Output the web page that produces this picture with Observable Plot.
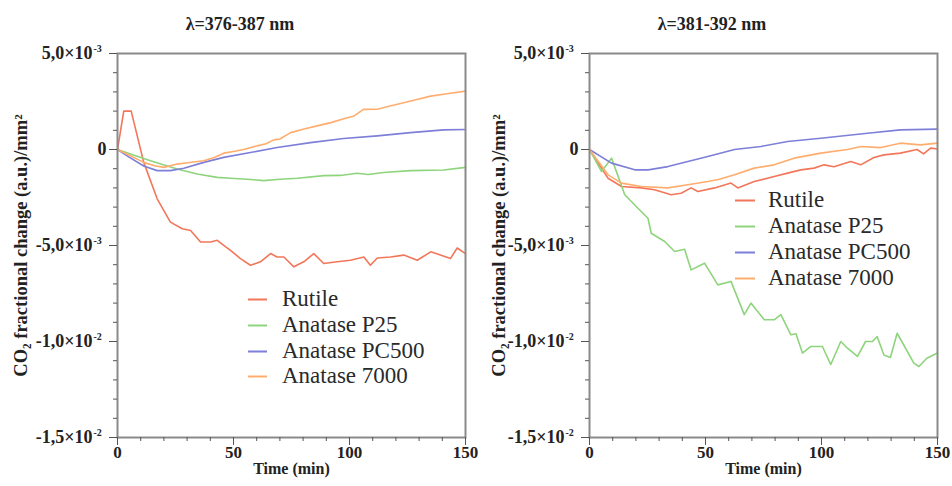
<!DOCTYPE html>
<html><head><meta charset="utf-8">
<script src="https://cdn.jsdelivr.net/npm/d3@7"></script>
<script src="https://cdn.jsdelivr.net/npm/@observablehq/plot@0.6"></script>
<style>
body{margin:0;background:#fff;}
#wrap{position:relative;width:952px;height:486px;overflow:hidden;color:#222;}
.panel{position:absolute;top:0;}
.title{position:absolute;top:14px;font-weight:bold;font-size:18px;line-height:20px;transform:translateX(-50%);white-space:nowrap;}
.legrow{position:absolute;white-space:nowrap;font-size:23px;line-height:23px;transform:translateY(-50%);color:#2a2a2a;}
.legline{position:absolute;height:0;border-top:2px solid;top:50%;}
</style></head><body><div id="wrap"></div>
<script>
// ---- data (values in units of 1e-3 a.u./mm²) ----
const seriesNames = ["Rutile", "Anatase P25", "Anatase PC500", "Anatase 7000"];
const seriesColors = ["#f2775a", "#8ed47c", "#7d7fd8", "#ffad6e"];
const panelTitles = ["λ=376-387 nm", "λ=381-392 nm"];

const yTickValues = [5, 0, -5, -10, -15];
const yTickMantissa = ["5,0×10", "0", "-5,0×10", "-1,0×10", "-1,5×10"];
const yTickExponent = ["-3", "", "-3", "-2", "-2"];
const xMajorTicks = [0, 50, 100, 150];
const xMinorTicks = [0,10,20,30,40,50,60,70,80,90,100,110,120,130,140,150];
const yMinorTicks = [5,4,3,2,1,0,-1,-2,-3,-4,-5,-6,-7,-8,-9,-10,-11,-12,-13,-14,-15];
const xLabel = "Time (min)";
const yLabel = "CO₂ fractional change (a.u.)/mm²";

// Left panel (λ=376-387 nm): [time, value]
const rutileLeft = [[0,0],[2.7,2.0],[5.9,2.0],[11.3,-0.67],[17.1,-2.57],[22.8,-3.78],[27.9,-4.13],[31.5,-4.22],[35.8,-4.82],[40.1,-4.82],[43,-4.73],[45.8,-4.99],[48.7,-5.25],[53,-5.68],[57.3,-6.03],[61.6,-5.85],[66,-5.42],[68.8,-5.6],[71.7,-5.6],[76,-6.11],[80.3,-5.85],[84.6,-5.42],[88.9,-5.94],[94.7,-5.85],[100.4,-5.77],[106.2,-5.6],[109,-6.03],[112,-5.65],[117.7,-5.6],[123.4,-5.5],[129.2,-5.77],[135,-5.33],[139.2,-5.5],[143.5,-5.68],[146.4,-5.13],[150,-5.42]];
const p25Left = [[0,0],[5.6,-0.24],[14.2,-0.59],[25.7,-1.02],[34.3,-1.28],[43,-1.45],[48.7,-1.5],[56,-1.55],[63,-1.62],[70,-1.55],[77.5,-1.5],[89,-1.36],[96,-1.35],[103.3,-1.24],[108,-1.3],[114.7,-1.2],[126.3,-1.1],[140.6,-1.07],[150,-0.93]];
const pc500Left = [[0,0],[5,-0.4],[11.3,-0.86],[17.1,-1.1],[22.8,-1.1],[28.6,-0.98],[37.2,-0.67],[45.8,-0.41],[57.3,-0.16],[68.8,0.1],[83.2,0.36],[97.5,0.57],[112,0.71],[126.3,0.88],[140.6,1.02],[150,1.04]];
const a7000Left = [[0,0],[5,-0.3],[11.3,-0.67],[16,-0.85],[20,-0.93],[25.7,-0.76],[31,-0.68],[37.2,-0.59],[42,-0.4],[45.8,-0.19],[50,-0.1],[54.4,0],[60.2,0.19],[64,0.3],[67.4,0.5],[70,0.55],[74.6,0.88],[80,1.05],[86,1.23],[92,1.4],[97.5,1.6],[102,1.75],[106,2.09],[112,2.1],[117,2.25],[123.4,2.43],[129,2.6],[135,2.78],[142,2.9],[150,3.04]];

// Right panel (λ=381-392 nm)
const rutileRight = [[0,0],[8,-1.5],[13.8,-1.93],[22.3,-2.0],[28,-2.1],[35.2,-2.36],[39.5,-2.28],[43.8,-2.0],[46.7,-2.19],[53.9,-2.0],[61,-1.75],[63.9,-2.0],[71,-1.67],[79.6,-1.41],[85.4,-1.23],[91.1,-1.06],[96.8,-0.97],[101.1,-0.8],[105.4,-0.9],[112.6,-0.63],[116.9,-0.8],[122.6,-0.42],[126.9,-0.28],[134,-0.19],[141.2,0],[144,-0.23],[147,0.07],[150,0.03]];
const p25Right = [[0,0],[5.2,-1.15],[9.5,-0.45],[15.2,-2.36],[20.9,-3.06],[25.2,-3.58],[26.6,-4.36],[32.4,-4.79],[36.7,-5.31],[41,-5.2],[43.8,-6.27],[49.6,-5.92],[55.3,-7.05],[61,-6.87],[66.7,-8.6],[69.6,-8.0],[75.3,-8.87],[79.6,-8.87],[82.5,-8.6],[86.8,-9.65],[89,-9.6],[91.8,-10.6],[95.4,-10.26],[100.4,-10.26],[104,-11.2],[108.3,-10.0],[111.2,-10.35],[115.5,-10.78],[119,-10.0],[122,-10.0],[124,-9.74],[126.9,-10.7],[129.7,-10.83],[132.6,-9.57],[135.4,-10.17],[139.8,-11.13],[142,-11.3],[145.4,-10.87],[150,-10.6]];
const pc500Right = [[0,0],[9.5,-0.71],[19.5,-1.06],[25.3,-1.06],[33.8,-0.89],[42.4,-0.63],[51,-0.36],[62.5,0],[73.9,0.16],[85.4,0.42],[99.7,0.59],[119.8,0.85],[134,1.02],[150,1.06]];
const a7000Right = [[0,0],[8,-1.32],[13.8,-1.75],[22.3,-1.93],[33.8,-2.0],[42.4,-1.84],[51,-1.67],[56,-1.55],[62.5,-1.32],[71,-0.97],[79.6,-0.8],[88.2,-0.45],[99.7,-0.19],[111.2,0],[117,0.16],[125.5,0.1],[134,0.33],[142.6,0.24],[150,0.33]];

// ---- drawing ----
const FONT = "'Liberation Serif', serif";
function makePanel(seriesList, ml, mr, labelDx) {
  const data = seriesList.flatMap((pts, i) => pts.map(([t, v]) => ({t, v, name: seriesNames[i]})));
  const expIdx = yTickValues.map((d, i) => i).filter(i => yTickExponent[i] !== "");
  const plainIdx = yTickValues.map((d, i) => i).filter(i => yTickExponent[i] === "");
  const svg = Plot.plot({
    width: 476, height: 486,
    marginLeft: ml, marginRight: mr, marginTop: 53, marginBottom: 49,
    style: {fontFamily: FONT, background: "transparent", overflow: "visible", color: "#222"},
    x: {domain: [0, 150], axis: null},
    y: {domain: [-15, 5], axis: null},
    color: {domain: seriesNames, range: seriesColors},
    marks: [
      Plot.line(data, {x: "t", y: "v", z: "name", stroke: "name", strokeWidth: 1.6}),
      Plot.frame({stroke: "#8a8a8a", strokeWidth: 2}),
      Plot.axisX({ticks: xMinorTicks, tickSize: 4, tickFormat: () => "", label: null, stroke: "#555"}),
      Plot.axisX({ticks: xMajorTicks, tickSize: 8, tickPadding: 0, fontSize: 17, fontWeight: "bold", label: null, stroke: "#555", fill: "#222"}),
      Plot.axisY({ticks: yMinorTicks, tickSize: 4, tickFormat: () => "", label: null, stroke: "#555"}),
      Plot.axisY({ticks: yTickValues, tickSize: 8, tickFormat: () => "", label: null, stroke: "#555"}),
      Plot.text(expIdx, {y: i => yTickValues[i], text: i => yTickMantissa[i], frameAnchor: "left", textAnchor: "end", dx: -25, fontSize: 18, fontWeight: "bold", fill: "#222"}),
      Plot.text(expIdx, {y: i => yTickValues[i], text: i => yTickExponent[i], frameAnchor: "left", textAnchor: "start", dx: -24, dy: -5, fontSize: 10, fontWeight: "bold", fill: "#222"}),
      Plot.text(plainIdx, {y: i => yTickValues[i], text: i => yTickMantissa[i], frameAnchor: "left", textAnchor: "end", dx: -11, fontSize: 18, fontWeight: "bold", fill: "#222"}),
      Plot.text([yLabel], {frameAnchor: "left", textAnchor: "middle", rotate: -90, dx: labelDx, fontSize: 18.5, fontWeight: "bold", fill: "#222"}),
      Plot.text([xLabel], {frameAnchor: "bottom", dy: 36, fontSize: 16, fontWeight: "bold", fill: "#222"})
    ]
  });
  svg.style.fontFamily = FONT;
  svg.querySelectorAll("text").forEach(t => t.style.fontFamily = FONT);
  return svg;
}

const wrap = document.getElementById("wrap");
wrap.style.fontFamily = FONT;
const panels = [
  {series: [rutileLeft, p25Left, pc500Left, a7000Left], ml: 117, mr: 11, labelDx: -96, left: 0, titleX: 240,
   leg: {lineX: 248, lineW: 19, textX: 282, rows: [298, 324, 350, 375]}},
  {series: [rutileRight, p25Right, pc500Right, a7000Right], ml: 113, mr: 15, labelDx: -90, left: 476, titleX: 712,
   leg: {lineX: 735, lineW: 20, textX: 768, rows: [199, 225, 251, 277]}}
];
panels.forEach((p, k) => {
  const div = document.createElement("div");
  div.className = "panel";
  div.style.left = p.left + "px";
  div.appendChild(makePanel(p.series, p.ml, p.mr, p.labelDx));
  wrap.appendChild(div);
  const t = document.createElement("div");
  t.className = "title";
  t.style.fontFamily = FONT;
  t.style.left = p.titleX + "px";
  t.textContent = panelTitles[k];
  wrap.appendChild(t);
  seriesNames.forEach((name, i) => {
    const row = document.createElement("div");
    row.className = "legrow";
    row.style.fontFamily = FONT;
    row.style.left = p.leg.lineX + "px";
    row.style.top = p.leg.rows[i] + "px";
    row.style.paddingLeft = (p.leg.textX - p.leg.lineX) + "px";
    const ln = document.createElement("span");
    ln.className = "legline";
    ln.style.left = "0px";
    ln.style.width = p.leg.lineW + "px";
    ln.style.borderColor = seriesColors[i];
    row.appendChild(ln);
    row.appendChild(document.createTextNode(name));
    wrap.appendChild(row);
  });
});
</script>
</body></html>
